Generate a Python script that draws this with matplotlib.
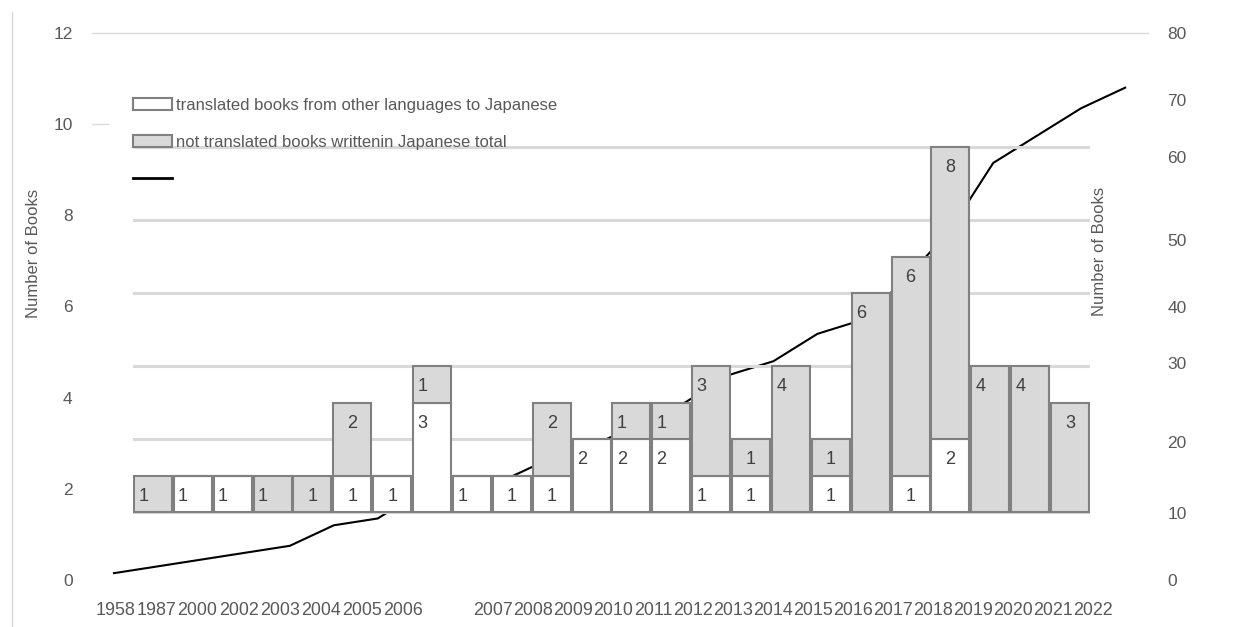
import numpy as np
import matplotlib.pyplot as plt
from matplotlib.patches import Patch
from matplotlib.lines import Line2D

plt.rcParams['font.family'] = ['Liberation Sans', 'DejaVu Sans']

years = ['1958', '1987', '2000', '2002', '2003', '2004', '2005', '2006',
         '2007', '2008', '2009', '2010', '2011', '2012', '2013', '2014',
         '2015', '2016', '2017', '2018', '2019', '2020', '2021', '2022']
translated = [0, 1, 1, 0, 0, 1, 1, 3, 1, 1, 1, 2, 2, 2, 1, 1, 0, 1, 0, 1, 2, 0, 0, 0]
japanese = [1, 0, 0, 1, 1, 2, 0, 1, 0, 0, 2, 0, 1, 1, 3, 1, 4, 1, 6, 6, 8, 4, 4, 3]
left_ticks = [0, 2, 4, 6, 8, 10, 12]
right_labels = ['0', '10', '20', '30', '40', '50', '60', '70', '80']

# bars whose value labels sit at the left edge instead of the middle
left_label = [0, 1, 2, 3, 7, 8, 11, 12, 13, 14, 16, 18, 21, 22]

W, H = 1233, 627
fig = plt.figure(figsize=(W / 100, H / 100), dpi=100)


def box(l, t, r, b):
    return [l / W, 1 - b / H, (r - l) / W, (b - t) / H]


grid_c = '#d9d9d9'
txt_c = '#595959'
edge_c = '#808080'

ax = fig.add_axes(box(92, 33, 1148, 580))
ax2 = ax.twinx()
axb = fig.add_axes(box(133, 33, 1090, 580))
axb.patch.set_alpha(0)

x = np.arange(len(years))
totals = np.array(translated) + np.array(japanese)

# cumulative line (right axis)
ax2.plot(x, np.cumsum(totals), color='black', lw=1.5)
ax.set_xlim(-0.5, 23.52)
ax.set_ylim(0, 12)
ax2.set_ylim(0, 80)

ax.axhline(12, color=grid_c, lw=1, clip_on=False)
ax.axhline(10, xmax=16 / 1056, color=grid_c, lw=1)

ax.set_yticks(left_ticks, [str(v) for v in left_ticks])
ax.tick_params(axis='y', length=0, pad=14, labelsize=12.5, labelcolor=txt_c)
ax2.set_yticks([0, 9.8, 20.2, 31.7, 39.9, 49.7, 61.9, 70.2, 80], right_labels)
ax2.tick_params(axis='y', length=0, pad=14, labelsize=12.5, labelcolor=txt_c)

tick_pos = np.concatenate([0.035 + 0.933 * np.arange(8), 8.62 + 0.91 * np.arange(16)])
ax.set_xticks(tick_pos, years)
ax.tick_params(axis='x', length=0, pad=16, labelsize=12.9, labelcolor=txt_c)

for a in (ax, ax2, axb):
    for s in a.spines.values():
        s.set_visible(False)

# stacked bars
axb.set_xlim(-0.5, 23.5)
axb.set_ylim(-68 / 36.5, 479 / 36.5)
axb.set_yticks(range(0, 11, 2))
axb.set_axisbelow(True)
axb.grid(axis='y', color=grid_c, lw=2.2)
axb.tick_params(length=0, labelleft=False, labelbottom=False)
axb.set_xticks([])

bw = 0.95
axb.bar(x, translated, width=bw, color='white', edgecolor=edge_c, lw=1.5)
axb.bar(x, japanese, width=bw, bottom=translated, color='#d9d9d9', edgecolor=edge_c, lw=1.5)

for i in x:
    for val, base in ((translated[i], 0), (japanese[i], translated[i])):
        if val == 0:
            continue
        top = base + val
        if i in left_label:
            axb.annotate(str(val), (i - bw / 2, top), xytext=(3, -15), textcoords='offset points',
                         ha='left', va='center', fontsize=13, color='#404040')
        else:
            axb.annotate(str(val), (i, top), xytext=(0, -15), textcoords='offset points',
                         ha='center', va='center', fontsize=13, color='#404040')

handles = [Patch(facecolor='white', edgecolor=edge_c, lw=1.5),
           Patch(facecolor='#d9d9d9', edgecolor=edge_c, lw=1.5),
           Line2D([], [], color='black', lw=2)]
labels = ['translated books from other languages to Japanese',
          'not translated books writtenin Japanese total', ' ']
fig.legend(handles, labels, loc='upper left', bbox_to_anchor=(133 / W, 1 - 98 / H),
           frameon=False, fontsize=12, handlelength=2.35, handletextpad=0.25,
           labelspacing=1.3, borderpad=0, borderaxespad=0, labelcolor=txt_c)

fig.text(34 / W, 1 - 253 / H, 'Number of Books', rotation=90, ha='center', va='center',
         fontsize=12, color=txt_c)
fig.text(1100 / W, 1 - 251 / H, 'Number of Books', rotation=90, ha='center', va='center',
         fontsize=12, color=txt_c)

fig.add_artist(Line2D([12 / W, 12 / W], [0, 1 - 12 / H], color=grid_c, lw=1))

fig.savefig('out.png', dpi=100)
